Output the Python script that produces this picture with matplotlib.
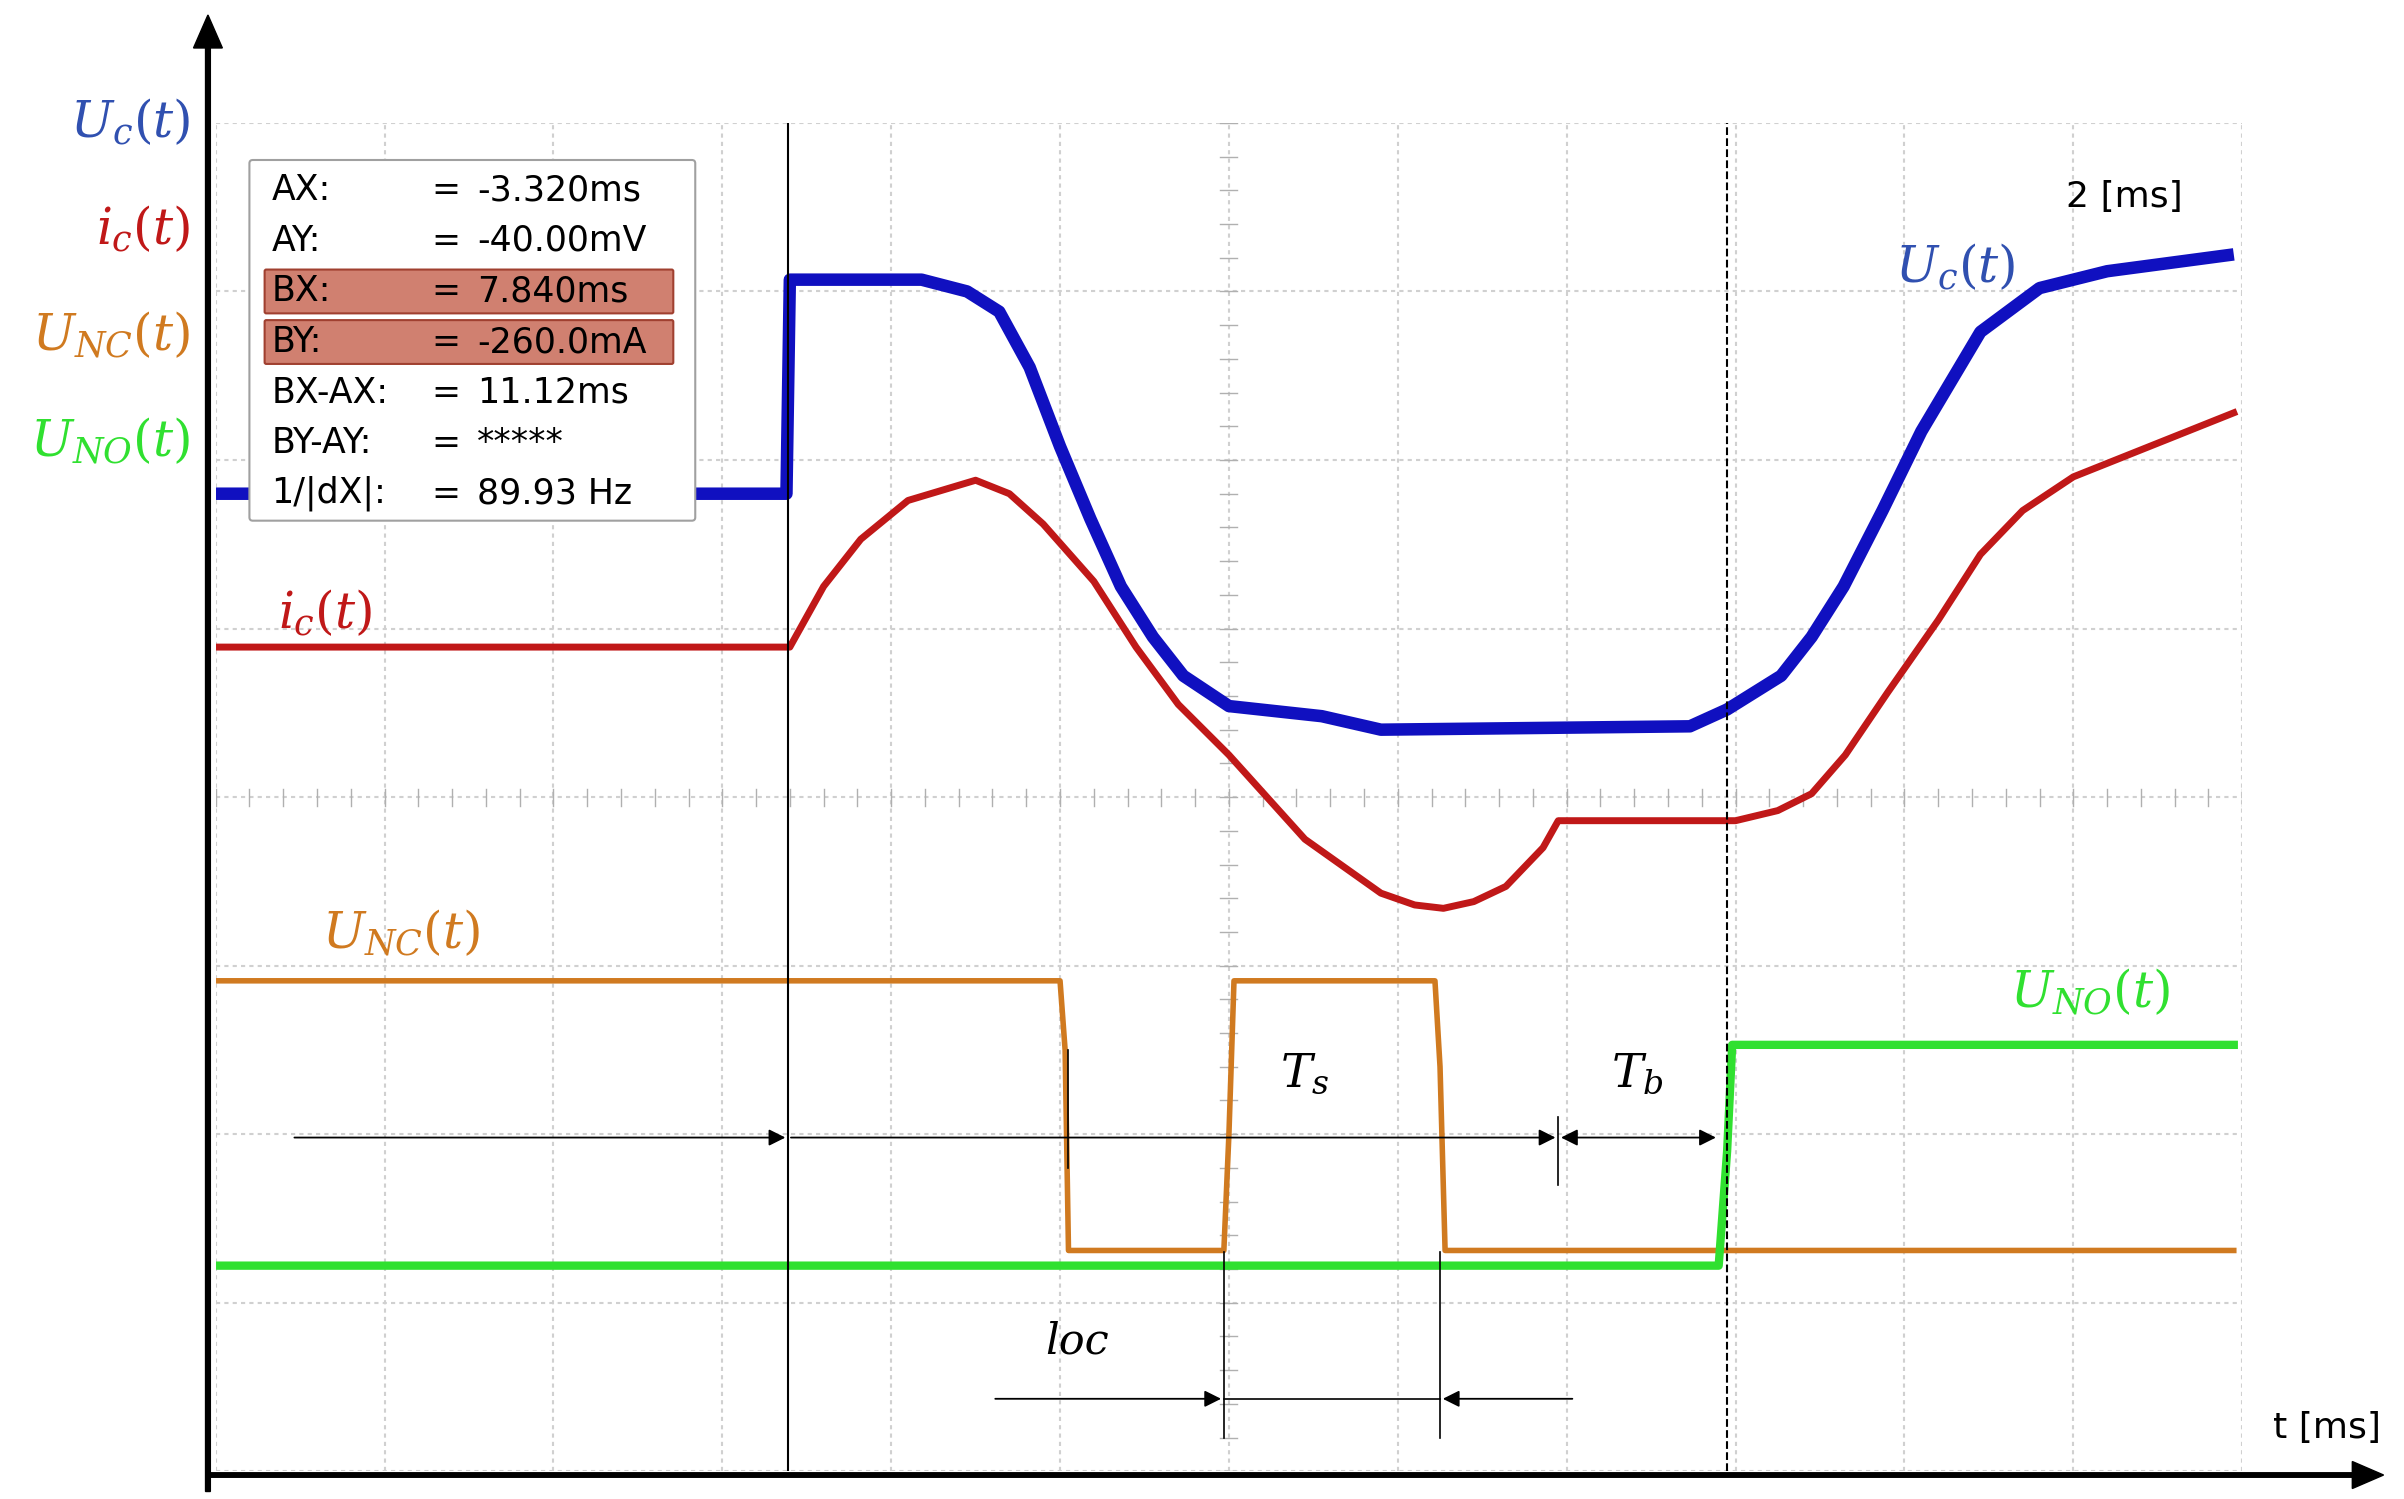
import matplotlib
matplotlib.use("Agg")
import matplotlib.pyplot as plt
from matplotlib.patches import FancyBboxPatch, FancyArrow

plt.rcParams["mathtext.fontset"] = "dejavuserif"

# data in screen divisions (x: 0..12, y: 0..8)
uc_x = [0, 3.38, 3.40, 4.18, 4.45, 4.64, 4.82, 5.0, 5.18, 5.36, 5.55, 5.73, 6.0, 6.55, 6.9, 8.73, 8.95, 9.27, 9.45, 9.64, 9.87, 10.1, 10.45, 10.8, 11.2, 11.95]
uc_y = [5.8, 5.8, 7.07, 7.07, 7.0, 6.88, 6.55, 6.08, 5.65, 5.25, 4.95, 4.72, 4.54, 4.48, 4.4, 4.42, 4.52, 4.72, 4.95, 5.25, 5.7, 6.17, 6.76, 7.02, 7.12, 7.22]
ic_x = [0, 3.4, 3.6, 3.82, 4.1, 4.5, 4.7, 4.9, 5.2, 5.45, 5.7, 6.0, 6.45, 6.9, 7.1, 7.27, 7.45, 7.64, 7.86, 7.95, 9.0, 9.25, 9.45, 9.65, 9.9, 10.2, 10.45, 10.7, 11.0, 11.5, 11.95]
ic_y = [4.89, 4.89, 5.25, 5.53, 5.76, 5.88, 5.8, 5.62, 5.28, 4.89, 4.55, 4.25, 3.75, 3.43, 3.36, 3.34, 3.38, 3.47, 3.7, 3.86, 3.86, 3.92, 4.02, 4.25, 4.62, 5.05, 5.44, 5.7, 5.9, 6.1, 6.28]
unc_x = [0, 5.0, 5.03, 5.05, 5.97, 6.0, 6.03, 7.22, 7.25, 7.28, 11.95]
unc_y = [2.91, 2.91, 2.5, 1.31, 1.31, 2.0, 2.91, 2.91, 2.4, 1.31, 1.31]
uno_x = [0, 8.9, 8.95, 8.98, 11.95]
uno_y = [1.22, 1.22, 1.9, 2.53, 2.53]
cursor_lines = [("AX:", "-3.320ms"), ("AY:", "-40.00mV"), ("BX:", "7.840ms"), ("BY:", "-260.0mA"),
                ("BX-AX:", "11.12ms"), ("BY-AY:", "*****"), ("1/|dX|:", "89.93 Hz")]

BLUE, RED, ORANGE, GREEN = "#1010c0", "#c01818", "#d07a20", "#30e030"
LBLUE = "#3050b0"

fig = plt.figure(figsize=(24.04, 14.99), dpi=100)
ax = fig.add_axes([0.0897, 0.0185, 0.843, 0.8995])
ax.set_xlim(0, 12); ax.set_ylim(0, 8)
for s in ax.spines.values(): s.set_visible(False)
ax.set_xticks(range(13)); ax.set_yticks(range(9))
ax.tick_params(length=0, labelbottom=False, labelleft=False)
ax.grid(True, color="#d0d0d0", lw=1.5, ls=(0, (2, 2)))
for i in range(61):
    ax.plot([i * 0.2, i * 0.2], [3.95, 4.05], color="#b0b0b0", lw=1)
for i in range(41):
    ax.plot([6 - 0.05, 6 + 0.05], [i * 0.2, i * 0.2], color="#b0b0b0", lw=1)

ax.plot(uc_x, uc_y, color=BLUE, lw=9, solid_capstyle="butt")
ax.plot(ic_x, ic_y, color=RED, lw=5)
ax.plot(unc_x, unc_y, color=ORANGE, lw=4)
ax.plot(uno_x, uno_y, color=GREEN, lw=6)

ax.axvline(3.39, color="black", lw=1.5)
ax.axvline(8.95, color="black", lw=1.5, ls="--")
for xv, y0, y1 in [(5.05, 1.8, 2.5), (7.95, 1.7, 2.1), (5.97, 0.2, 1.3), (7.25, 0.2, 1.3)]:
    ax.plot([xv, xv], [y0, y1], color="black", lw=1.2)
arr = dict(arrowstyle="-|>", color="black", lw=1.3, mutation_scale=25)
ax.annotate("", xy=(3.39, 1.98), xytext=(0.45, 1.98), arrowprops=arr)
ax.annotate("", xy=(7.95, 1.98), xytext=(3.39, 1.98), arrowprops=arr)
ax.annotate("", xy=(8.9, 1.98), xytext=(7.95, 1.98), arrowprops=dict(arrowstyle="<|-|>", color="black", lw=1.3, mutation_scale=25))
ax.annotate("", xy=(5.97, 0.43), xytext=(4.6, 0.43), arrowprops=arr)
ax.annotate("", xy=(7.25, 0.43), xytext=(8.05, 0.43), arrowprops=arr)
ax.plot([5.97, 7.25], [0.43, 0.43], color="black", lw=1.2)

ax.text(6.45, 2.28, "$T_s$", fontsize=34, ha="center")
ax.text(8.42, 2.28, "$T_b$", fontsize=34, ha="center")
ax.text(5.1, 0.7, "loc", ha="center", family="DejaVu Serif", style="italic", fontsize=31)
ax.text(10.3, 7.05, "$U_c(t)$", color=LBLUE, fontsize=36, ha="center")
ax.text(0.65, 5.0, "$i_c(t)$", color=RED, fontsize=36, ha="center")
ax.text(1.1, 3.1, "$U_{NC}(t)$", color=ORANGE, fontsize=36, ha="center")
ax.text(11.1, 2.75, "$U_{NO}(t)$", color=GREEN, fontsize=36, ha="center")
ax.text(11.3, 7.5, "2 [ms]", fontsize=26, ha="center")
ax.text(12.5, 0.2, "t [ms]", fontsize=26, ha="center", clip_on=False)

for i, (lab, col) in enumerate([("$U_c(t)$", LBLUE), ("$i_c(t)$", RED), ("$U_{NC}(t)$", ORANGE), ("$U_{NO}(t)$", GREEN)]):
    ax.text(-0.15, 8.0 - i * 0.63, lab, color=col, fontsize=36, ha="right", va="center", clip_on=False)

ax.add_patch(FancyBboxPatch((0.22, 5.66), 2.6, 2.1, boxstyle="round,pad=0.02", fc="white", ec="#a0a0a0", lw=1.5, zorder=5))
for i, (a, b) in enumerate(cursor_lines):
    y = 7.6 - i * 0.3
    if i in (2, 3):
        ax.add_patch(FancyBboxPatch((0.3, y - 0.12), 2.4, 0.24, boxstyle="round,pad=0.01", fc="#d08070", ec="#a04030", lw=1.5, zorder=6))
    ax.text(0.33, y, a, fontsize=25, va="center", zorder=7)
    ax.text(1.28, y, "=", fontsize=25, va="center", zorder=7)
    ax.text(1.55, y, b, fontsize=25, va="center", zorder=7)

fig.patches.append(FancyArrow(0.0865, 0.005, 0, 0.985, width=0.002, head_width=0.012, head_length=0.022,
                              color="black", transform=fig.transFigure, length_includes_head=True))
fig.patches.append(FancyArrow(0.0865, 0.016, 0.905, 0, width=0.003, head_width=0.018, head_length=0.013,
                              color="black", transform=fig.transFigure, length_includes_head=True))
fig.savefig("out.png", dpi=100)
